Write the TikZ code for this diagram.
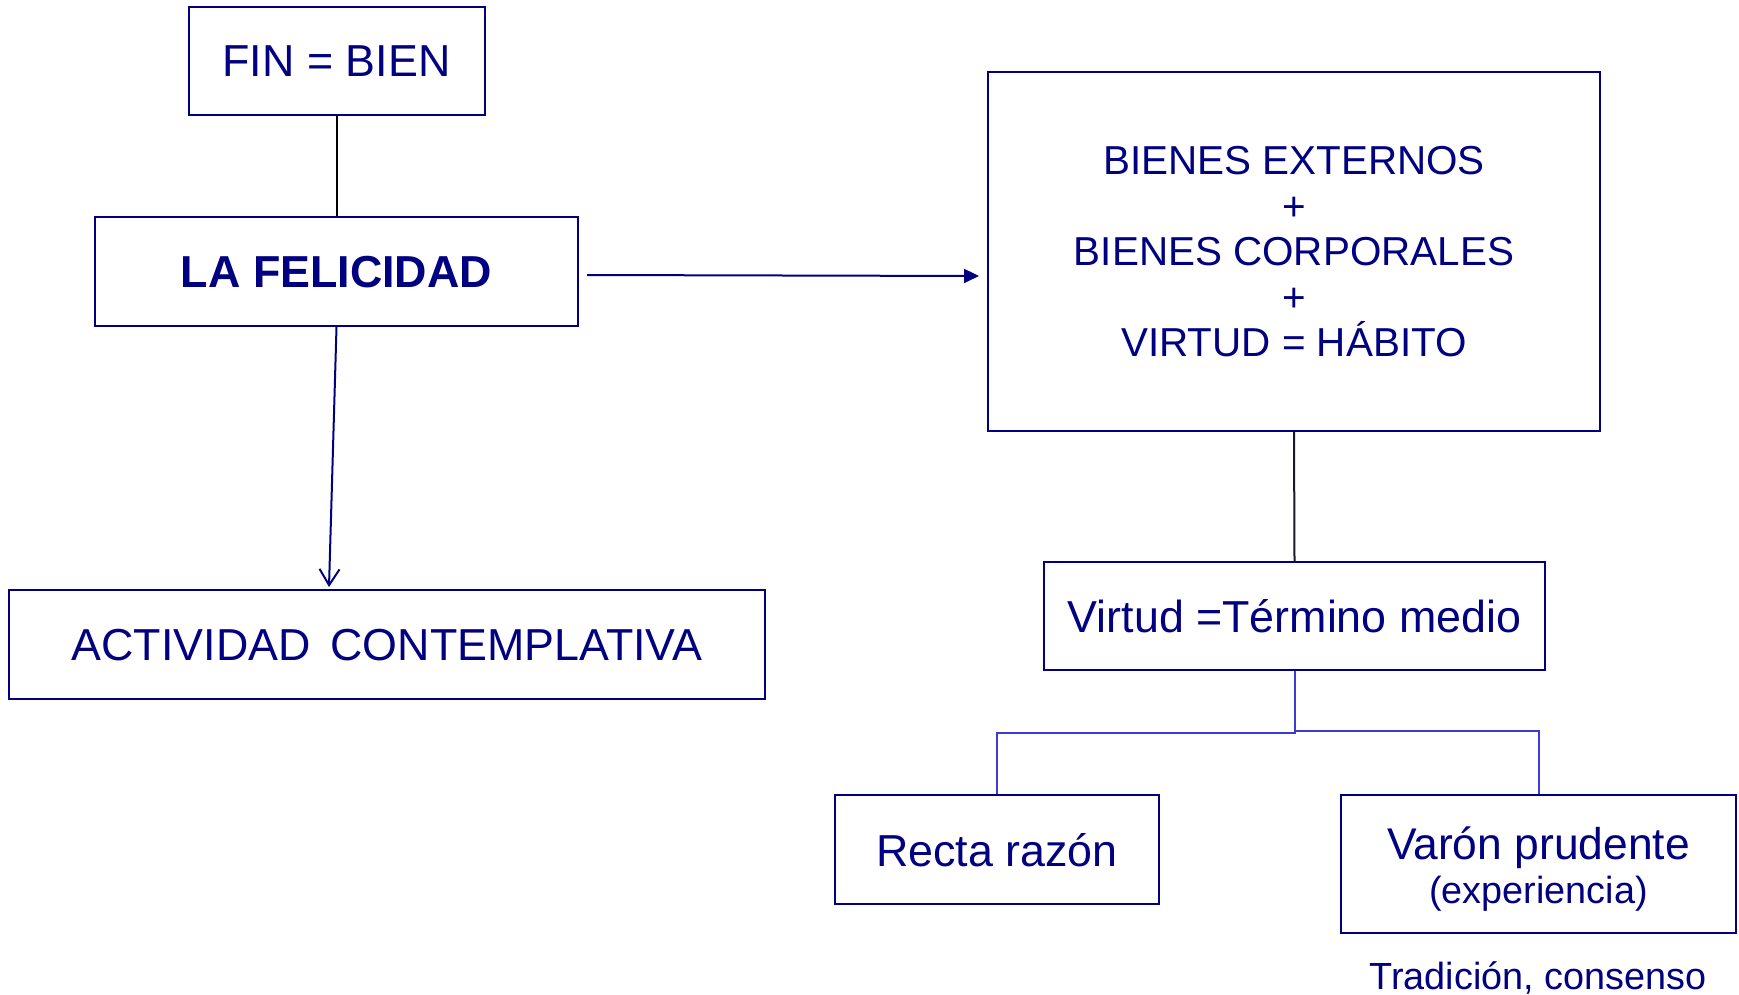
\documentclass[tikz,border=0pt]{standalone}
\usepackage{fontspec}
\setmainfont{Liberation Sans}
\usetikzlibrary{arrows.meta,calc}
\definecolor{navy}{RGB}{0,0,128}
\definecolor{teeblue}{RGB}{60,60,210}
\definecolor{darkline}{RGB}{25,25,35}
\tikzset{
  box/.style={draw=navy,line width=1pt,inner sep=0pt,text=navy,align=center},
  main/.style={font=\fontsize{22.4}{26}\selectfont,text depth=-1.2pt},
  link/.style={line width=1pt},
}
\begin{document}
\begin{tikzpicture}[x=0.5pt,y=-0.5pt]
\useasboundingbox (0,0) rectangle (1739,995);
\node[box,main,minimum width=148pt,minimum height=54pt] (fin) at (336.5,61.5) {FIN = BIEN};
\node[box,main,font=\fontsize{22.4}{26}\selectfont\bfseries,minimum width=241.5pt,minimum height=54.5pt] (fel) at (336.5,271.5) {LA FELICIDAD};
\node[box,main,minimum width=378pt,minimum height=54.5pt] (act) at (387,644.5) {ACTIVIDAD\, CONTEMPLATIVA};
\node[box,font=\fontsize{20.2}{22.7}\selectfont,text depth=-1.5pt,minimum width=306pt,minimum height=179.5pt] (big) at (1294,251.5) {BIENES EXTERNOS\\+\\BIENES CORPORALES\\+\\VIRTUD = HÁBITO};
\node[box,main,minimum width=250.5pt,minimum height=54pt] (vir) at (1294.5,616) {Virtud =Término medio};
\node[box,main,minimum width=162pt,minimum height=54.5pt] (rec) at (997,849.5) {Recta razón};
\node[box,font=\fontsize{22.2}{22}\selectfont,text height=40pt,text depth=0pt,minimum width=197.5pt,minimum height=69pt] (var) at (1538.5,863.5) {Varón prudente\\{\fontsize{18.9}{22}\selectfont (experiencia)}};
\node[text=navy,font=\fontsize{18.9}{22}\selectfont,inner sep=0pt] (trad) at (1538,978) {Tradición, consenso};

\draw[link,black] (fin.south) -- (fel.north);
\draw[link,navy,-{Triangle[length=7.5pt,width=7pt]}] ($(fel.east)+(8,3.5)$) -- ($(big.west |- fel.east)+(-8,4.5)$);
\draw[link,navy,-{Straight Barb[length=8pt,width=10pt]}] (fel.south) -- ($(act.north -| fel.south)+(-7.5,-2)$);
\draw[link,darkline] (big.south) -- (vir.north);
\draw[link,teeblue] (vir.south) -- ++(0,62) -| (rec.north);
\draw[link,teeblue] (vir.south) -- ++(0,60) -| (var.north);
\end{tikzpicture}
\end{document}
